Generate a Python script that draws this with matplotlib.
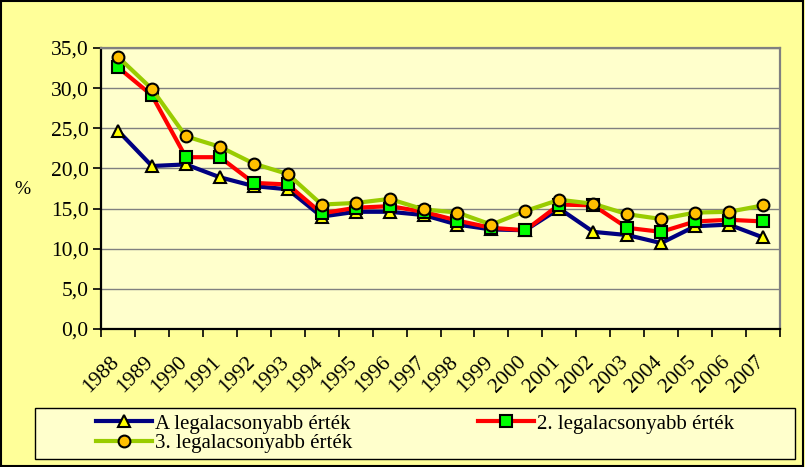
import matplotlib
matplotlib.use("Agg")
import matplotlib.pyplot as plt
from matplotlib.patches import Rectangle
from matplotlib.ticker import FuncFormatter, MultipleLocator, FixedLocator
import matplotlib.transforms as mtransforms

years = [str(y) for y in range(1988, 2008)]
series_a = [24.7, 20.3, 20.5, 18.9, 17.8, 17.4, 14.0, 14.6, 14.6, 14.2, 13.0, 12.4, 12.3, 15.0, 12.1, 11.7, 10.7, 12.8, 13.0, 11.4]
series_2 = [32.6, 29.1, 21.4, 21.4, 18.2, 18.0, 14.4, 15.1, 15.3, 14.6, 13.5, 12.6, 12.3, 15.5, 15.4, 12.6, 12.1, 13.4, 13.6, 13.4]
series_3 = [33.9, 29.9, 24.0, 22.7, 20.6, 19.3, 15.5, 15.7, 16.2, 14.9, 14.5, 13.0, 14.7, 16.1, 15.6, 14.3, 13.7, 14.5, 14.6, 15.4]
labels = ["A legalacsonyabb érték", "2. legalacsonyabb érték", "3. legalacsonyabb érték"]

plt.rcParams['font.family'] = ['Liberation Serif', 'DejaVu Serif']

W, H = 805, 467
fig = plt.figure(figsize=(W / 100, H / 100), dpi=100)
fig.patch.set_facecolor('#FFFF99')
fig.patches.append(Rectangle((0.001, 0.002), 0.997, 0.996, transform=fig.transFigure,
                             fill=False, edgecolor='black', linewidth=1.5, zorder=10))

ax = fig.add_axes([101 / W, 1 - 329 / H, (780 - 101) / W, (329 - 48) / H])
ax.set_facecolor('#FFFFCC')
x = list(range(len(years)))

la, = ax.plot(x, series_a, color='#000080', lw=3.0, marker='^', ms=8.5,
              mfc='#FFFF00', mec='black', mew=1.5, zorder=3)
l2, = ax.plot(x, series_2, color='#FF0000', lw=3.0, marker='s', ms=8,
              mfc='#00FF00', mec='black', mew=1.5, zorder=4)
l3, = ax.plot(x, series_3, color='#99CC00', lw=3.0, marker='o', ms=8.5,
              mfc='#FFC000', mec='black', mew=1.5, zorder=5)

ax.set_xlim(-0.5, len(years) - 0.5)
ax.set_ylim(0, 35)
ax.yaxis.set_major_locator(MultipleLocator(5))
ax.yaxis.set_major_formatter(FuncFormatter(lambda v, p: f"{v:.1f}".replace('.', ',')))
ax.grid(axis='y', color='#808080', lw=1.0)
ax.set_axisbelow(True)

ax.xaxis.set_major_locator(FixedLocator([i - 0.5 for i in range(len(years) + 1)]))
ax.xaxis.set_major_formatter(FuncFormatter(lambda v, p: ''))
ax.xaxis.set_minor_locator(FixedLocator(x))
ax.set_xticklabels(years, minor=True)
ax.tick_params(axis='x', which='minor', length=0, labelsize=15.5, pad=17)
ax.tick_params(axis='x', which='major', length=6, width=1.2, direction='out')
ax.tick_params(axis='y', length=6, width=1.2, direction='out', labelsize=15.5, pad=3)
offset = mtransforms.ScaledTranslation(-6 / 72, 0, fig.dpi_scale_trans)
for t in ax.get_xticklabels(minor=True):
    t.set_rotation(45)
    t.set_ha('right')
    t.set_va('top')
    t.set_rotation_mode('anchor')
    t.set_transform(t.get_transform() + offset)

for s in ['left', 'bottom']:
    ax.spines[s].set_color('black')
    ax.spines[s].set_linewidth(1.6)
for s in ['top', 'right']:
    ax.spines[s].set_color('#808080')
    ax.spines[s].set_linewidth(1.6)

fig.text(22 / W, 1 - 189 / H, '%', fontsize=14, ha='center', va='center')

# legend box
fig.patches.append(Rectangle((35 / W, 1 - 459 / H), (795 - 35) / W, (459 - 408) / H,
                             transform=fig.transFigure, facecolor='#FFFFCC',
                             edgecolor='black', linewidth=1.0, zorder=1))
leg = fig.legend([la, l3, l2], [labels[0], labels[2], labels[1]], ncol=2,
                 loc='center', bbox_to_anchor=(415 / W, 1 - 433.5 / H),
                 fontsize=15, frameon=False,
                 handlelength=2.7, handletextpad=0.15, borderpad=0.0, labelspacing=0.0,
                 borderaxespad=0, columnspacing=6.0)
leg.set_zorder(2)

fig.savefig('out.png', dpi=100, facecolor=fig.get_facecolor())
